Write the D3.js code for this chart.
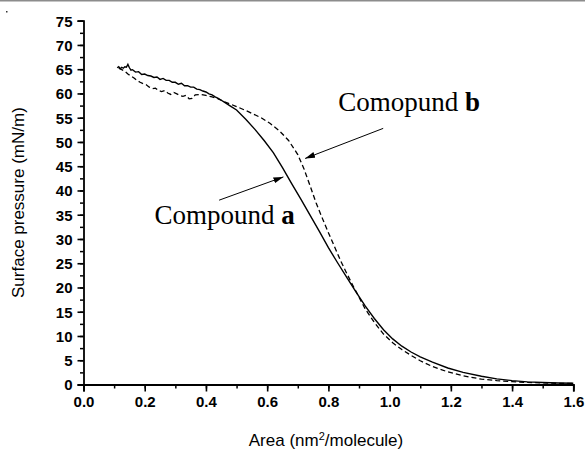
<!DOCTYPE html>
<html>
<head>
<meta charset="utf-8">
<script src="https://cdn.jsdelivr.net/npm/d3@7"></script>
<style>
  html, body { margin: 0; padding: 0; background: #fff; }
  svg { display: block; }
</style>
</head>
<body>
<div id="app"></div>
<script>
// Compound a (solid line)
var areaA = [0.110, 0.115, 0.120, 0.125, 0.130, 0.135, 0.140, 0.145, 0.150, 0.155,
  0.160, 0.170, 0.180, 0.190, 0.200, 0.210, 0.220, 0.230, 0.240, 0.250,
  0.260, 0.270, 0.280, 0.290, 0.300, 0.310, 0.320, 0.330, 0.340, 0.350,
  0.360, 0.370, 0.380, 0.390, 0.400, 0.410, 0.420, 0.430, 0.440, 0.450,
  0.460, 0.470, 0.480, 0.500, 0.530, 0.560, 0.590, 0.620, 0.650, 0.680,
  0.710, 0.740, 0.770, 0.800, 0.830, 0.860, 0.890, 0.920, 0.950, 0.980,
  1.010, 1.040, 1.070, 1.100, 1.140, 1.190, 1.240, 1.300, 1.350, 1.400,
  1.450, 1.500, 1.550, 1.600];
var pressureA = [65.3, 65.5, 65.1, 65.4, 65.2, 65.5, 65.4, 66.0, 65.3, 64.8,
  64.9, 64.4, 64.5, 63.9, 64.0, 63.7, 63.6, 63.3, 63.4, 62.9,
  63.1, 62.7, 62.7, 62.3, 62.3, 61.9, 62.1, 61.6, 61.6, 61.3,
  61.3, 60.9, 60.8, 60.5, 60.3, 59.9, 59.7, 59.3, 59.0, 58.6,
  58.2, 57.8, 57.4, 56.6, 54.7, 52.6, 50.3, 47.8, 44.7, 41.4,
  38.2, 34.9, 31.6, 28.2, 25.1, 22.1, 19.1, 16.2, 13.6, 11.3,
  9.4, 7.9, 6.7, 5.7, 4.6, 3.4, 2.5, 1.7, 1.15, 0.8,
  0.55, 0.4, 0.3, 0.25];

// Comopund b (dashed line)
var areaB = [0.115, 0.125, 0.135, 0.145, 0.155, 0.165, 0.175, 0.185, 0.195, 0.205,
  0.215, 0.225, 0.235, 0.245, 0.255, 0.265, 0.275, 0.285, 0.295, 0.305,
  0.315, 0.325, 0.335, 0.345, 0.355, 0.365, 0.380, 0.400, 0.420, 0.440,
  0.460, 0.480, 0.500, 0.540, 0.580, 0.610, 0.640, 0.670, 0.700, 0.720,
  0.740, 0.760, 0.780, 0.800, 0.820, 0.840, 0.860, 0.880, 0.900, 0.920,
  0.950, 0.980, 1.010, 1.040, 1.070, 1.100, 1.140, 1.190, 1.240, 1.300,
  1.350, 1.400, 1.450, 1.500, 1.550, 1.600];
var pressureB = [65.2, 64.9, 64.6, 64.0, 63.6, 63.2, 62.7, 62.3, 62.0, 61.8,
  61.3, 61.0, 61.1, 60.6, 60.4, 60.6, 60.1, 59.8, 60.2, 59.9,
  59.6, 59.4, 59.6, 58.9, 59.0, 59.7, 59.8, 59.6, 59.3, 58.9,
  58.3, 57.8, 57.3, 56.2, 55.0, 53.8, 52.3, 50.3, 47.4, 44.5,
  41.0, 37.4, 34.3, 31.3, 28.4, 25.5, 22.9, 20.4, 18.0, 15.6,
  12.8, 10.4, 8.6, 7.2, 6.0, 4.9, 3.7, 2.6, 1.8, 1.1,
  0.8, 0.58, 0.42, 0.32, 0.25, 0.2];

var xTicks = [0.0, 0.2, 0.4, 0.6, 0.8, 1.0, 1.2, 1.4, 1.6];
var yTicks = [0, 5, 10, 15, 20, 25, 30, 35, 40, 45, 50, 55, 60, 65, 70, 75];

// annotation anchors in data units: text position, arrow tail, arrow head
var noteA = { label: "Compound ", bold: "a", tx: 0.232, ty: 33.0, x1: 0.443, y1: 38.0, x2: 0.653, y2: 42.8 };
var noteB = { label: "Comopund ", bold: "b", tx: 0.832, ty: 56.3, x1: 0.979, y1: 52.8, x2: 0.724, y2: 46.6 };

var width = 585, height = 452;

var svg = d3.select("#app")
  .append("svg")
  .attr("width", width)
  .attr("height", height);

// thin grey rule along the top edge
svg.append("rect")
  .attr("x", 0).attr("y", 0)
  .attr("width", width).attr("height", 1.5)
  .attr("fill", "#8c8c8c");
svg.append("rect")
  .attr("x", 6).attr("y", 11)
  .attr("width", 1.5).attr("height", 1.5)
  .attr("fill", "#333");

var x = d3.scaleLinear().domain([0, 1.6]).range([83.5, 573.3]);
var y = d3.scaleLinear().domain([0, 75]).range([384.5, 20.7]);

// minor ticks first
svg.append("g")
  .attr("transform", "translate(0," + y(0) + ")")
  .call(d3.axisBottom(x).tickValues(d3.range(0, 1.61, 0.1)).tickSize(4).tickFormat(""))
  .call(g => g.select(".domain").remove())
  .call(g => g.selectAll("line").attr("stroke-width", 1.5));

svg.append("g")
  .attr("transform", "translate(" + x(0) + ",0)")
  .call(d3.axisLeft(y).tickValues(d3.range(0, 75.1, 2.5)).tickSize(3.5).tickFormat(""))
  .call(g => g.select(".domain").remove())
  .call(g => g.selectAll("line").attr("stroke-width", 1.5));

// major ticks + labels
var xAxis = svg.append("g")
  .attr("transform", "translate(0," + y(0) + ")")
  .call(d3.axisBottom(x).tickValues(xTicks).tickSize(7).tickPadding(5).tickFormat(d3.format(".1f")));

var yAxis = svg.append("g")
  .attr("transform", "translate(" + x(0) + ",0)")
  .call(d3.axisLeft(y).tickValues(yTicks).tickSize(6).tickPadding(5).tickFormat(d3.format("d")));

[xAxis, yAxis].forEach(function (g) {
  g.select(".domain").attr("stroke-width", 1.8).attr("stroke", "#000");
  g.selectAll(".tick line").attr("stroke-width", 1.6);
  g.selectAll("text")
    .attr("fill", "#000")
    .style("font-family", "'Liberation Sans', Arial, sans-serif")
    .style("font-size", "15px")
    .style("font-weight", "bold");
});
yAxis.selectAll("text").attr("dy", "0.36em");

// axis titles
svg.append("text")
  .attr("x", 326)
  .attr("y", 446)
  .attr("text-anchor", "middle")
  .style("font-family", "'Liberation Sans', Arial, sans-serif")
  .style("font-size", "17px")
  .call(t => {
    t.append("tspan").text("Area (nm");
    t.append("tspan").attr("dy", -6).style("font-size", "11px").text("2");
    t.append("tspan").attr("dy", 6).text("/molecule)");
  });

svg.append("text")
  .attr("transform", "translate(24," + (y(0) + y(75)) / 2 + ") rotate(-90)")
  .attr("text-anchor", "middle")
  .style("font-family", "'Liberation Sans', Arial, sans-serif")
  .style("font-size", "17px")
  .text("Surface pressure (mN/m)");

// curves
var line = d3.line()
  .x(d => x(d[0]))
  .y(d => y(d[1]));

svg.append("path")
  .datum(d3.zip(areaA, pressureA))
  .attr("fill", "none")
  .attr("stroke", "#000")
  .attr("stroke-width", 1.4)
  .attr("d", line);

svg.append("path")
  .datum(d3.zip(areaB, pressureB))
  .attr("fill", "none")
  .attr("stroke", "#000")
  .attr("stroke-width", 1.3)
  .attr("stroke-dasharray", "5,3")
  .attr("d", line);

// arrows + labels
svg.append("defs").append("marker")
  .attr("id", "head")
  .attr("viewBox", "0 0 10 6")
  .attr("refX", 10).attr("refY", 3)
  .attr("markerWidth", 10).attr("markerHeight", 6)
  .attr("markerUnits", "userSpaceOnUse")
  .attr("orient", "auto")
  .append("path")
  .attr("d", "M0,0 L10,3 L0,6 Z")
  .attr("fill", "#000");

[noteA, noteB].forEach(function (n) {
  svg.append("line")
    .attr("x1", x(n.x1)).attr("y1", y(n.y1))
    .attr("x2", x(n.x2)).attr("y2", y(n.y2))
    .attr("stroke", "#000")
    .attr("stroke-width", 1)
    .attr("marker-end", "url(#head)");

  var t = svg.append("text")
    .attr("x", x(n.tx))
    .attr("y", y(n.ty))
    .style("font-family", "'Liberation Serif', 'Times New Roman', serif")
    .style("font-size", "27px");
  t.append("tspan").text(n.label);
  t.append("tspan").style("font-weight", "bold").text(n.bold);
});
</script>
</body>
</html>
